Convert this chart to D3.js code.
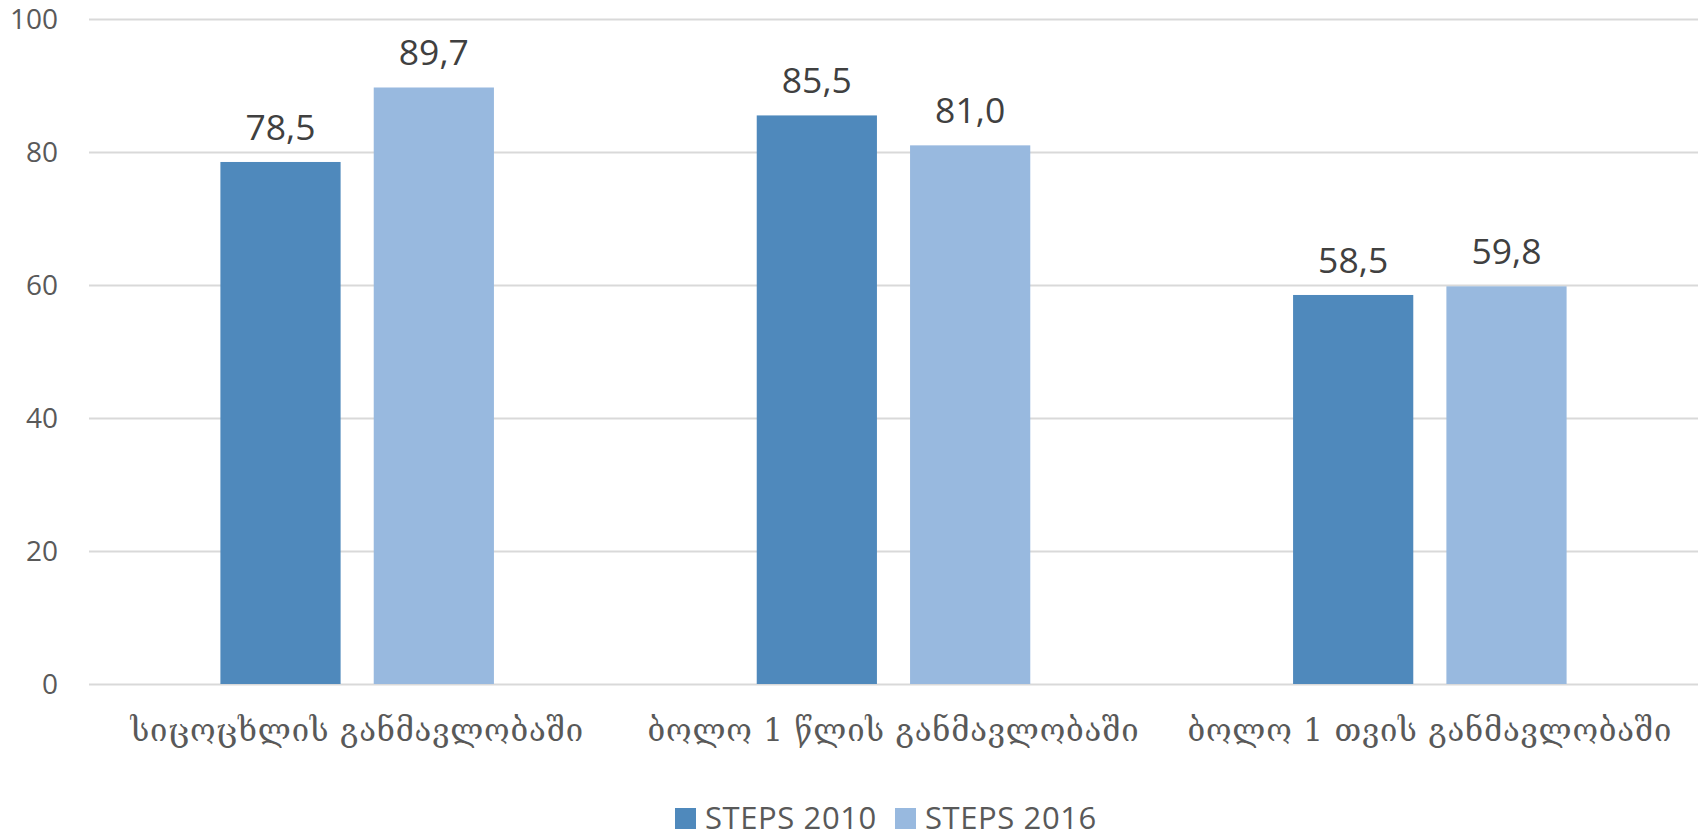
<!DOCTYPE html>
<html>
<head>
<meta charset="utf-8">
<script src="https://cdn.jsdelivr.net/npm/d3@7"></script>
<style>
  html, body { margin: 0; padding: 0; background: #fff; }
  svg { display: block; }
</style>
</head>
<body>
<svg id="chart" width="1703" height="838"></svg>
<script>
const categories = ["სიცოცხლის განმავლობაში", "ბოლო 1 წლის განმავლობაში", "ბოლო 1 თვის განმავლობაში"];
const seriesNames = ["STEPS 2010", "STEPS 2016"];
const steps2010 = [78.5, 85.5, 58.5];
const steps2016 = [89.7, 81.0, 59.8];
const yTicks = [0, 20, 40, 60, 80, 100];
const colors = ["#4F89BC", "#98B9DF"];

const seriesValues = [steps2010, steps2016];
const data = categories.map((c, i) => ({ cat: c, vals: seriesNames.map((s, j) => ({ s, v: seriesValues[j][i] })) }));

const svg = d3.select("#chart");
const margin = { left: 89, right: 5, top: 19, bottom: 154 };
const W = 1703, H = 838;
const plotR = W - margin.right;
const plotB = H - margin.bottom;

const x = d3.scaleBand().domain(categories).range([margin.left, plotR]).paddingInner(0).paddingOuter(0);
const bw = x.bandwidth();
const x1 = d3.scaleBand().domain(seriesNames).range([bw * 0.245, bw * 0.755]).paddingInner(0.216);
const y = d3.scaleLinear().domain([0, 100]).range([plotB, margin.top]);

// gridlines
svg.append("g")
  .attr("transform", `translate(${margin.left},0)`)
  .call(d3.axisLeft(y).tickValues(yTicks).tickSize(-(plotR - margin.left)).tickFormat(""))
  .call(g => g.select(".domain").remove())
  .call(g => g.selectAll("line").attr("stroke", "#D9D9D9").attr("stroke-width", 2));

// y labels
svg.append("g")
  .attr("transform", `translate(${margin.left - 31},0)`)
  .call(d3.axisLeft(y).tickValues(yTicks).tickSize(0).tickPadding(0))
  .call(g => g.select(".domain").remove())
  .call(g => g.selectAll("text").attr("fill", "#595959").style("font-family", "'Open Sans', sans-serif").style("font-size", "28px").attr("dy", "0.34em"));

// bars
const groups = svg.append("g").selectAll("g").data(data).join("g")
  .attr("transform", d => `translate(${x(d.cat)},0)`);

groups.selectAll("rect").data(d => d.vals).join("rect")
  .attr("x", d => x1(d.s))
  .attr("width", x1.bandwidth())
  .attr("y", d => y(d.v))
  .attr("height", d => y(0) - y(d.v))
  .attr("fill", (d, i) => colors[i]);

groups.selectAll("text.val").data(d => d.vals).join("text")
  .attr("class", "val")
  .attr("x", d => x1(d.s) + x1.bandwidth() / 2)
  .attr("y", d => y(d.v) - 22)
  .attr("text-anchor", "middle")
  .attr("fill", "#404040")
  .style("font-family", "'Open Sans', sans-serif")
  .style("font-size", "35.5px")
  .text(d => d.v.toFixed(1).replace(".", ","));

// x labels
svg.append("g").selectAll("text").data(categories).join("text")
  .attr("x", d => x(d) + bw / 2)
  .attr("y", 741)
  .attr("text-anchor", "middle")
  .attr("fill", "#595959")
  .style("font-family", "'DejaVu Serif', 'DejaVu Sans', serif")
  .style("font-size", "31px")
  .style("letter-spacing", "0.8px")
  .text(d => d);

// legend
const legend = svg.append("g");
const legendX = [675, 895];
seriesNames.forEach((s, i) => {
  legend.append("rect").attr("x", legendX[i]).attr("y", 808).attr("width", 21).attr("height", 21).attr("fill", colors[i]);
  legend.append("text").attr("x", legendX[i] + 30).attr("y", 829)
    .attr("fill", "#595959")
    .style("font-family", "'Open Sans', sans-serif")
    .style("font-size", "31px")
    .style("letter-spacing", "0.6px")
    .text(s);
});
</script>
</body>
</html>
